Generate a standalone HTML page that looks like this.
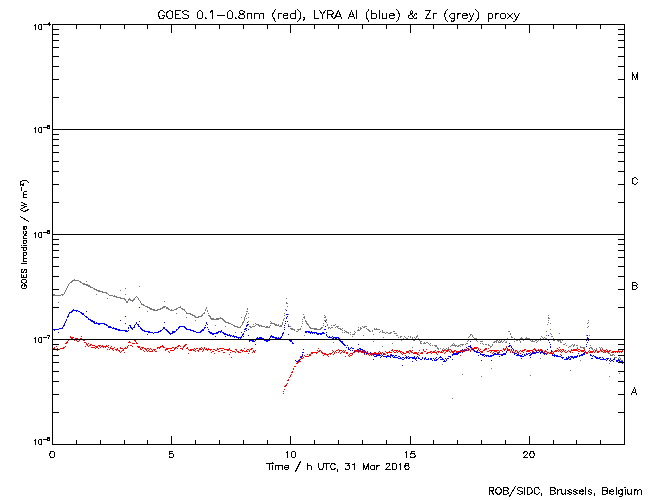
<!DOCTYPE html>
<html><head><meta charset="utf-8"><title>GOES / LYRA proxy</title>
<style>html,body{margin:0;padding:0;background:#fff;font-family:"Liberation Sans",sans-serif}svg{display:block}</style>
</head><body><svg width="650" height="500" viewBox="0 0 650 500" shape-rendering="crispEdges"><path fill="#787878" d="M74 279h1v1h-1zM72 280h7v1h-7zM71 281h2v1h-2zM79 281h2v1h-2zM86 281h1v1h-1zM70 282h2v1h-2zM80 282h2v1h-2zM69 283h1v1h-1zM82 283h3v1h-3zM68 284h1v1h-1zM83 284h5v1h-5zM68 285h1v1h-1zM86 285h4v1h-4zM67 286h1v1h-1zM88 286h3v1h-3zM139 286h1v1h-1zM67 287h1v1h-1zM90 287h3v1h-3zM66 288h1v1h-1zM93 288h2v1h-2zM125 288h1v1h-1zM66 289h1v1h-1zM94 289h3v1h-3zM65 290h1v1h-1zM96 290h4v1h-4zM120 290h1v1h-1zM65 291h1v1h-1zM98 291h5v1h-5zM64 292h1v1h-1zM102 292h5v1h-5zM64 293h1v1h-1zM106 293h2v1h-2zM53 294h2v1h-2zM61 294h3v1h-3zM96 294h1v1h-1zM108 294h1v1h-1zM125 294h1v1h-1zM53 295h8v1h-8zM62 295h1v1h-1zM109 295h4v1h-4zM114 295h1v1h-1zM113 296h4v1h-4zM136 296h1v1h-1zM116 297h5v1h-5zM135 297h1v1h-1zM137 297h1v1h-1zM107 298h1v1h-1zM120 298h5v1h-5zM129 298h1v1h-1zM134 298h1v1h-1zM138 298h1v1h-1zM286 298h1v1h-1zM124 299h2v1h-2zM128 299h3v1h-3zM133 299h2v1h-2zM138 299h1v1h-1zM125 300h1v1h-1zM128 300h1v1h-1zM130 300h4v1h-4zM139 300h1v1h-1zM126 301h2v1h-2zM132 301h1v1h-1zM140 301h1v1h-1zM164 301h1v1h-1zM58 302h1v1h-1zM126 302h2v1h-2zM140 302h1v1h-1zM286 302h1v1h-1zM141 303h1v1h-1zM286 303h2v1h-2zM141 304h3v1h-3zM143 305h2v1h-2zM145 306h3v1h-3zM163 306h3v1h-3zM180 306h1v1h-1zM287 306h1v1h-1zM147 307h3v1h-3zM162 307h3v1h-3zM166 307h2v1h-2zM178 307h3v1h-3zM206 307h1v1h-1zM149 308h3v1h-3zM160 308h3v1h-3zM166 308h3v1h-3zM176 308h2v1h-2zM181 308h2v1h-2zM206 308h1v1h-1zM247 308h1v1h-1zM150 309h5v1h-5zM157 309h4v1h-4zM168 309h2v1h-2zM171 309h1v1h-1zM174 309h3v1h-3zM182 309h3v1h-3zM205 309h1v1h-1zM247 309h1v1h-1zM285 309h1v1h-1zM153 310h5v1h-5zM170 310h4v1h-4zM184 310h1v1h-1zM205 310h1v1h-1zM207 310h1v1h-1zM147 311h1v1h-1zM185 311h1v1h-1zM207 311h1v1h-1zM246 311h2v1h-2zM186 312h1v1h-1zM204 312h1v1h-1zM176 313h1v1h-1zM186 313h5v1h-5zM203 313h2v1h-2zM208 313h1v1h-1zM246 313h1v1h-1zM248 313h1v1h-1zM284 313h1v1h-1zM190 314h3v1h-3zM202 314h1v1h-1zM246 314h1v1h-1zM288 314h1v1h-1zM303 314h1v1h-1zM192 315h3v1h-3zM201 315h2v1h-2zM208 315h2v1h-2zM245 315h1v1h-1zM284 315h1v1h-1zM324 315h1v1h-1zM548 315h1v1h-1zM194 316h2v1h-2zM198 316h4v1h-4zM209 316h2v1h-2zM245 316h1v1h-1zM304 316h1v1h-1zM325 316h1v1h-1zM186 317h1v1h-1zM195 317h4v1h-4zM210 317h1v1h-1zM220 317h1v1h-1zM241 317h1v1h-1zM244 317h1v1h-1zM248 317h1v1h-1zM303 317h2v1h-2zM324 317h2v1h-2zM548 317h1v1h-1zM210 318h4v1h-4zM216 318h7v1h-7zM244 318h1v1h-1zM246 318h1v1h-1zM284 318h1v1h-1zM304 318h1v1h-1zM548 318h2v1h-2zM211 319h8v1h-8zM222 319h2v1h-2zM244 319h1v1h-1zM283 319h1v1h-1zM302 319h1v1h-1zM326 319h1v1h-1zM195 320h1v1h-1zM223 320h2v1h-2zM244 320h1v1h-1zM283 320h1v1h-1zM305 320h1v1h-1zM324 320h3v1h-3zM548 320h1v1h-1zM588 320h1v1h-1zM224 321h2v1h-2zM243 321h1v1h-1zM248 321h1v1h-1zM270 321h1v1h-1zM302 321h1v1h-1zM305 321h2v1h-2zM225 322h4v1h-4zM242 322h2v1h-2zM271 322h1v1h-1zM282 322h1v1h-1zM306 322h1v1h-1zM326 322h1v1h-1zM548 322h1v1h-1zM588 322h1v1h-1zM228 323h3v1h-3zM242 323h1v1h-1zM255 323h1v1h-1zM270 323h5v1h-5zM282 323h1v1h-1zM302 323h1v1h-1zM306 323h2v1h-2zM323 323h1v1h-1zM550 323h1v1h-1zM587 323h1v1h-1zM231 324h2v1h-2zM242 324h1v1h-1zM253 324h1v1h-1zM256 324h3v1h-3zM274 324h3v1h-3zM278 324h1v1h-1zM282 324h1v1h-1zM288 324h1v1h-1zM307 324h2v1h-2zM327 324h1v1h-1zM335 324h1v1h-1zM547 324h1v1h-1zM215 325h1v1h-1zM233 325h2v1h-2zM241 325h1v1h-1zM255 325h1v1h-1zM258 325h4v1h-4zM270 325h1v1h-1zM275 325h4v1h-4zM280 325h2v1h-2zM288 325h1v1h-1zM308 325h1v1h-1zM323 325h1v1h-1zM327 325h1v1h-1zM331 325h1v1h-1zM333 325h2v1h-2zM225 326h1v1h-1zM234 326h4v1h-4zM240 326h1v1h-1zM249 326h2v1h-2zM252 326h3v1h-3zM259 326h1v1h-1zM261 326h4v1h-4zM266 326h2v1h-2zM269 326h1v1h-1zM279 326h3v1h-3zM289 326h2v1h-2zM301 326h1v1h-1zM309 326h1v1h-1zM336 326h3v1h-3zM362 326h1v1h-1zM364 326h3v1h-3zM588 326h1v1h-1zM237 327h4v1h-4zM250 327h2v1h-2zM265 327h5v1h-5zM309 327h2v1h-2zM321 327h2v1h-2zM328 327h2v1h-2zM331 327h2v1h-2zM335 327h1v1h-1zM337 327h1v1h-1zM358 327h1v1h-1zM360 327h1v1h-1zM363 327h2v1h-2zM587 327h1v1h-1zM290 328h3v1h-3zM300 328h1v1h-1zM310 328h7v1h-7zM320 328h2v1h-2zM328 328h1v1h-1zM330 328h1v1h-1zM338 328h3v1h-3zM342 328h1v1h-1zM360 328h2v1h-2zM366 328h1v1h-1zM374 328h1v1h-1zM376 328h1v1h-1zM291 329h4v1h-4zM297 329h4v1h-4zM314 329h7v1h-7zM340 329h2v1h-2zM358 329h1v1h-1zM360 329h1v1h-1zM367 329h2v1h-2zM374 329h6v1h-6zM550 329h1v1h-1zM294 330h1v1h-1zM298 330h1v1h-1zM342 330h1v1h-1zM344 330h1v1h-1zM357 330h3v1h-3zM368 330h2v1h-2zM372 330h1v1h-1zM382 330h1v1h-1zM296 331h2v1h-2zM345 331h2v1h-2zM354 331h1v1h-1zM369 331h2v1h-2zM372 331h1v1h-1zM380 331h1v1h-1zM382 331h1v1h-1zM393 331h2v1h-2zM508 331h2v1h-2zM546 331h1v1h-1zM235 332h1v1h-1zM342 332h1v1h-1zM344 332h1v1h-1zM346 332h3v1h-3zM350 332h1v1h-1zM355 332h1v1h-1zM379 332h1v1h-1zM382 332h3v1h-3zM386 332h2v1h-2zM390 332h2v1h-2zM348 333h1v1h-1zM354 333h1v1h-1zM385 333h1v1h-1zM388 333h3v1h-3zM394 333h3v1h-3zM510 333h1v1h-1zM550 333h1v1h-1zM559 333h1v1h-1zM350 334h1v1h-1zM352 334h3v1h-3zM373 334h1v1h-1zM470 334h2v1h-2zM510 334h1v1h-1zM551 334h1v1h-1zM304 335h1v1h-1zM363 335h1v1h-1zM396 335h2v1h-2zM417 335h1v1h-1zM470 335h1v1h-1zM472 335h1v1h-1zM546 335h1v1h-1zM586 335h1v1h-1zM589 335h1v1h-1zM352 336h1v1h-1zM400 336h2v1h-2zM404 336h1v1h-1zM408 336h1v1h-1zM410 336h1v1h-1zM416 336h2v1h-2zM469 336h1v1h-1zM472 336h1v1h-1zM511 336h1v1h-1zM541 336h1v1h-1zM551 336h2v1h-2zM383 337h1v1h-1zM398 337h1v1h-1zM400 337h1v1h-1zM405 337h1v1h-1zM410 337h1v1h-1zM412 337h1v1h-1zM414 337h1v1h-1zM416 337h1v1h-1zM468 337h1v1h-1zM473 337h1v1h-1zM511 337h2v1h-2zM521 337h1v1h-1zM526 337h1v1h-1zM542 337h1v1h-1zM544 337h1v1h-1zM403 338h1v1h-1zM406 338h2v1h-2zM412 338h1v1h-1zM415 338h1v1h-1zM418 338h1v1h-1zM474 338h3v1h-3zM507 338h1v1h-1zM514 338h1v1h-1zM520 338h3v1h-3zM525 338h5v1h-5zM540 338h1v1h-1zM543 338h1v1h-1zM545 338h2v1h-2zM553 338h1v1h-1zM402 339h5v1h-5zM408 339h1v1h-1zM414 339h1v1h-1zM477 339h2v1h-2zM512 339h1v1h-1zM515 339h1v1h-1zM517 339h2v1h-2zM522 339h1v1h-1zM527 339h1v1h-1zM529 339h1v1h-1zM537 339h1v1h-1zM539 339h1v1h-1zM554 339h3v1h-3zM401 340h1v1h-1zM413 340h2v1h-2zM419 340h1v1h-1zM468 340h1v1h-1zM476 340h1v1h-1zM496 340h2v1h-2zM499 340h1v1h-1zM501 340h1v1h-1zM504 340h1v1h-1zM516 340h2v1h-2zM519 340h1v1h-1zM523 340h1v1h-1zM530 340h1v1h-1zM532 340h1v1h-1zM535 340h2v1h-2zM538 340h1v1h-1zM540 340h1v1h-1zM553 340h2v1h-2zM557 340h4v1h-4zM562 340h1v1h-1zM586 340h1v1h-1zM373 341h1v1h-1zM420 341h2v1h-2zM467 341h1v1h-1zM477 341h1v1h-1zM480 341h3v1h-3zM494 341h3v1h-3zM498 341h1v1h-1zM500 341h2v1h-2zM503 341h1v1h-1zM506 341h1v1h-1zM514 341h1v1h-1zM520 341h1v1h-1zM531 341h4v1h-4zM537 341h1v1h-1zM558 341h1v1h-1zM560 341h1v1h-1zM333 342h1v1h-1zM420 342h1v1h-1zM424 342h1v1h-1zM426 342h2v1h-2zM493 342h2v1h-2zM496 342h1v1h-1zM498 342h3v1h-3zM502 342h1v1h-1zM505 342h2v1h-2zM520 342h1v1h-1zM536 342h1v1h-1zM560 342h2v1h-2zM392 343h1v1h-1zM420 343h2v1h-2zM423 343h3v1h-3zM428 343h1v1h-1zM430 343h1v1h-1zM453 343h1v1h-1zM466 343h2v1h-2zM480 343h1v1h-1zM482 343h1v1h-1zM565 343h1v1h-1zM429 344h1v1h-1zM452 344h1v1h-1zM454 344h1v1h-1zM460 344h4v1h-4zM465 344h1v1h-1zM483 344h1v1h-1zM485 344h2v1h-2zM488 344h1v1h-1zM492 344h1v1h-1zM563 344h2v1h-2zM572 344h1v1h-1zM574 344h1v1h-1zM430 345h1v1h-1zM432 345h1v1h-1zM434 345h3v1h-3zM451 345h6v1h-6zM458 345h2v1h-2zM462 345h1v1h-1zM488 345h2v1h-2zM492 345h1v1h-1zM566 345h1v1h-1zM571 345h1v1h-1zM573 345h2v1h-2zM576 345h2v1h-2zM590 345h1v1h-1zM382 346h1v1h-1zM435 346h2v1h-2zM450 346h1v1h-1zM455 346h1v1h-1zM457 346h2v1h-2zM460 346h1v1h-1zM490 346h2v1h-2zM569 346h2v1h-2zM573 346h1v1h-1zM580 346h1v1h-1zM412 347h1v1h-1zM437 347h1v1h-1zM448 347h1v1h-1zM490 347h1v1h-1zM568 347h1v1h-1zM577 347h1v1h-1zM580 347h5v1h-5zM590 347h2v1h-2zM599 347h1v1h-1zM601 347h1v1h-1zM437 348h2v1h-2zM440 348h1v1h-1zM443 348h1v1h-1zM446 348h1v1h-1zM448 348h1v1h-1zM583 348h2v1h-2zM591 348h2v1h-2zM596 348h1v1h-1zM600 348h1v1h-1zM602 348h1v1h-1zM438 349h1v1h-1zM442 349h1v1h-1zM444 349h2v1h-2zM447 349h1v1h-1zM449 349h1v1h-1zM592 349h1v1h-1zM594 349h1v1h-1zM596 349h1v1h-1zM442 350h4v1h-4zM593 350h1v1h-1zM603 350h3v1h-3zM605 351h1v1h-1zM604 352h1v1h-1zM607 352h1v1h-1zM608 353h2v1h-2zM610 354h1v1h-1zM612 354h2v1h-2zM610 355h3v1h-3zM614 355h1v1h-1zM614 357h3v1h-3zM619 357h1v1h-1zM540 358h1v1h-1zM618 358h1v1h-1zM620 358h1v1h-1zM619 359h2v1h-2zM580 360h1v1h-1zM621 360h2v1h-2zM621 361h1v1h-1zM609 363h1v1h-1zM442 364h1v1h-1zM491 368h1v1h-1zM570 370h1v1h-1zM619 373h1v1h-1zM462 374h1v1h-1zM530 375h1v1h-1zM481 376h1v1h-1zM609 376h1v1h-1zM452 398h1v1h-1z"/><path fill="#0000ff" d="M139 307h1v1h-1zM73 309h1v1h-1zM72 310h6v1h-6zM286 310h1v1h-1zM71 311h2v1h-2zM76 311h1v1h-1zM78 311h2v1h-2zM86 311h1v1h-1zM69 312h3v1h-3zM80 312h2v1h-2zM69 313h1v1h-1zM81 313h3v1h-3zM68 314h1v1h-1zM82 314h2v1h-2zM286 314h2v1h-2zM68 315h1v1h-1zM84 315h1v1h-1zM67 316h2v1h-2zM85 316h2v1h-2zM125 316h1v1h-1zM287 316h1v1h-1zM67 317h1v1h-1zM86 317h2v1h-2zM286 317h1v1h-1zM88 318h1v1h-1zM286 318h1v1h-1zM66 319h1v1h-1zM88 319h3v1h-3zM66 320h1v1h-1zM90 320h3v1h-3zM120 320h1v1h-1zM65 321h1v1h-1zM91 321h4v1h-4zM139 321h1v1h-1zM285 321h1v1h-1zM287 321h1v1h-1zM325 321h1v1h-1zM65 322h1v1h-1zM93 322h2v1h-2zM96 322h1v1h-1zM136 322h1v1h-1zM164 322h1v1h-1zM206 322h1v1h-1zM247 322h1v1h-1zM64 323h1v1h-1zM94 323h11v1h-11zM125 323h1v1h-1zM136 323h1v1h-1zM206 323h1v1h-1zM285 323h1v1h-1zM64 324h1v1h-1zM98 324h2v1h-2zM104 324h3v1h-3zM135 324h1v1h-1zM137 324h2v1h-2zM207 324h1v1h-1zM247 324h2v1h-2zM63 325h2v1h-2zM106 325h2v1h-2zM129 325h2v1h-2zM134 325h1v1h-1zM138 325h1v1h-1zM205 325h1v1h-1zM246 325h2v1h-2zM284 325h1v1h-1zM63 326h1v1h-1zM108 326h3v1h-3zM130 326h1v1h-1zM134 326h1v1h-1zM138 326h2v1h-2zM179 326h6v1h-6zM246 326h1v1h-1zM288 326h1v1h-1zM325 326h1v1h-1zM62 327h1v1h-1zM108 327h4v1h-4zM113 327h1v1h-1zM128 327h1v1h-1zM130 327h2v1h-2zM133 327h2v1h-2zM140 327h1v1h-1zM163 327h2v1h-2zM178 327h2v1h-2zM184 327h2v1h-2zM204 327h2v1h-2zM207 327h1v1h-1zM284 327h1v1h-1zM59 328h4v1h-4zM112 328h5v1h-5zM128 328h1v1h-1zM131 328h2v1h-2zM140 328h2v1h-2zM163 328h2v1h-2zM178 328h1v1h-1zM185 328h2v1h-2zM204 328h1v1h-1zM245 328h2v1h-2zM53 329h6v1h-6zM115 329h5v1h-5zM132 329h1v1h-1zM141 329h2v1h-2zM162 329h1v1h-1zM165 329h2v1h-2zM176 329h2v1h-2zM186 329h5v1h-5zM202 329h2v1h-2zM208 329h1v1h-1zM244 329h2v1h-2zM248 329h1v1h-1zM284 329h1v1h-1zM324 329h2v1h-2zM54 330h1v1h-1zM118 330h9v1h-9zM128 330h1v1h-1zM142 330h3v1h-3zM160 330h2v1h-2zM166 330h2v1h-2zM176 330h1v1h-1zM190 330h4v1h-4zM201 330h3v1h-3zM221 330h1v1h-1zM246 330h1v1h-1zM125 331h3v1h-3zM144 331h6v1h-6zM158 331h3v1h-3zM167 331h2v1h-2zM172 331h4v1h-4zM193 331h3v1h-3zM200 331h2v1h-2zM208 331h2v1h-2zM218 331h4v1h-4zM244 331h1v1h-1zM305 331h5v1h-5zM311 331h1v1h-1zM58 332h1v1h-1zM148 332h5v1h-5zM154 332h5v1h-5zM168 332h2v1h-2zM172 332h3v1h-3zM196 332h5v1h-5zM209 332h3v1h-3zM216 332h3v1h-3zM220 332h1v1h-1zM222 332h2v1h-2zM241 332h1v1h-1zM283 332h1v1h-1zM305 332h2v1h-2zM308 332h9v1h-9zM322 332h2v1h-2zM326 332h1v1h-1zM153 333h1v1h-1zM169 333h4v1h-4zM210 333h8v1h-8zM223 333h3v1h-3zM243 333h1v1h-1zM282 333h2v1h-2zM310 333h1v1h-1zM312 333h1v1h-1zM314 333h1v1h-1zM316 333h9v1h-9zM147 334h1v1h-1zM170 334h1v1h-1zM212 334h2v1h-2zM224 334h4v1h-4zM229 334h1v1h-1zM242 334h2v1h-2zM282 334h1v1h-1zM288 334h1v1h-1zM317 334h2v1h-2zM320 334h2v1h-2zM326 334h1v1h-1zM227 335h5v1h-5zM233 335h1v1h-1zM242 335h1v1h-1zM248 335h1v1h-1zM271 335h1v1h-1zM282 335h1v1h-1zM326 335h1v1h-1zM548 335h1v1h-1zM587 335h1v1h-1zM215 336h1v1h-1zM225 336h1v1h-1zM230 336h1v1h-1zM232 336h5v1h-5zM241 336h1v1h-1zM243 336h1v1h-1zM270 336h4v1h-4zM281 336h1v1h-1zM327 336h1v1h-1zM329 336h1v1h-1zM332 336h1v1h-1zM234 337h1v1h-1zM236 337h6v1h-6zM257 337h1v1h-1zM259 337h3v1h-3zM270 337h1v1h-1zM272 337h5v1h-5zM278 337h1v1h-1zM280 337h2v1h-2zM328 337h4v1h-4zM333 337h6v1h-6zM587 337h1v1h-1zM238 338h1v1h-1zM240 338h1v1h-1zM256 338h8v1h-8zM269 338h1v1h-1zM275 338h6v1h-6zM332 338h2v1h-2zM335 338h2v1h-2zM338 338h2v1h-2zM587 338h2v1h-2zM250 339h1v1h-1zM256 339h1v1h-1zM263 339h2v1h-2zM288 339h2v1h-2zM548 339h2v1h-2zM249 340h5v1h-5zM255 340h1v1h-1zM264 340h6v1h-6zM289 340h3v1h-3zM339 340h2v1h-2zM548 340h1v1h-1zM586 340h1v1h-1zM588 340h1v1h-1zM249 341h1v1h-1zM252 341h3v1h-3zM266 341h2v1h-2zM290 341h2v1h-2zM340 341h3v1h-3zM470 341h1v1h-1zM292 342h1v1h-1zM341 342h2v1h-2zM549 342h1v1h-1zM587 342h1v1h-1zM292 343h2v1h-2zM342 343h2v1h-2zM509 343h1v1h-1zM255 344h1v1h-1zM343 344h2v1h-2zM358 344h1v1h-1zM550 344h1v1h-1zM586 344h1v1h-1zM344 345h2v1h-2zM347 345h1v1h-1zM470 345h1v1h-1zM509 345h2v1h-2zM468 346h3v1h-3zM508 346h2v1h-2zM511 346h1v1h-1zM550 346h1v1h-1zM586 346h1v1h-1zM346 347h1v1h-1zM348 347h1v1h-1zM351 347h1v1h-1zM466 347h1v1h-1zM470 347h2v1h-2zM511 347h1v1h-1zM550 347h1v1h-1zM348 348h1v1h-1zM350 348h1v1h-1zM352 348h2v1h-2zM359 348h2v1h-2zM468 348h1v1h-1zM471 348h2v1h-2zM512 348h1v1h-1zM589 348h1v1h-1zM303 349h1v1h-1zM348 349h2v1h-2zM357 349h2v1h-2zM360 349h3v1h-3zM462 349h1v1h-1zM464 349h1v1h-1zM468 349h2v1h-2zM472 349h2v1h-2zM513 349h1v1h-1zM534 349h1v1h-1zM547 349h1v1h-1zM350 350h1v1h-1zM352 350h1v1h-1zM354 350h3v1h-3zM359 350h2v1h-2zM363 350h2v1h-2zM461 350h3v1h-3zM465 350h3v1h-3zM474 350h1v1h-1zM477 350h1v1h-1zM507 350h2v1h-2zM535 350h2v1h-2zM538 350h1v1h-1zM551 350h1v1h-1zM354 351h5v1h-5zM362 351h2v1h-2zM365 351h1v1h-1zM461 351h1v1h-1zM464 351h1v1h-1zM474 351h3v1h-3zM494 351h1v1h-1zM506 351h1v1h-1zM512 351h1v1h-1zM532 351h1v1h-1zM536 351h1v1h-1zM539 351h1v1h-1zM541 351h2v1h-2zM544 351h1v1h-1zM551 351h1v1h-1zM302 352h2v1h-2zM364 352h3v1h-3zM370 352h1v1h-1zM458 352h3v1h-3zM462 352h1v1h-1zM476 352h4v1h-4zM498 352h1v1h-1zM506 352h1v1h-1zM512 352h2v1h-2zM532 352h3v1h-3zM536 352h3v1h-3zM540 352h3v1h-3zM584 352h1v1h-1zM589 352h1v1h-1zM364 353h1v1h-1zM366 353h7v1h-7zM376 353h1v1h-1zM453 353h6v1h-6zM480 353h1v1h-1zM492 353h1v1h-1zM494 353h2v1h-2zM497 353h1v1h-1zM503 353h3v1h-3zM514 353h3v1h-3zM526 353h1v1h-1zM528 353h2v1h-2zM531 353h5v1h-5zM540 353h1v1h-1zM543 353h4v1h-4zM578 353h1v1h-1zM583 353h2v1h-2zM302 354h1v1h-1zM372 354h4v1h-4zM378 354h2v1h-2zM381 354h1v1h-1zM383 354h3v1h-3zM391 354h1v1h-1zM452 354h6v1h-6zM480 354h5v1h-5zM493 354h7v1h-7zM501 354h5v1h-5zM514 354h1v1h-1zM517 354h2v1h-2zM522 354h1v1h-1zM524 354h1v1h-1zM526 354h2v1h-2zM530 354h2v1h-2zM544 354h1v1h-1zM546 354h1v1h-1zM552 354h1v1h-1zM554 354h1v1h-1zM581 354h4v1h-4zM590 354h1v1h-1zM302 355h1v1h-1zM371 355h1v1h-1zM376 355h5v1h-5zM382 355h1v1h-1zM387 355h2v1h-2zM390 355h4v1h-4zM395 355h2v1h-2zM452 355h1v1h-1zM478 355h1v1h-1zM482 355h2v1h-2zM485 355h4v1h-4zM490 355h4v1h-4zM501 355h2v1h-2zM516 355h6v1h-6zM524 355h2v1h-2zM529 355h2v1h-2zM552 355h6v1h-6zM561 355h1v1h-1zM577 355h1v1h-1zM579 355h4v1h-4zM590 355h2v1h-2zM593 355h1v1h-1zM300 356h2v1h-2zM374 356h3v1h-3zM381 356h1v1h-1zM383 356h8v1h-8zM392 356h1v1h-1zM394 356h1v1h-1zM398 356h2v1h-2zM406 356h1v1h-1zM408 356h1v1h-1zM414 356h1v1h-1zM417 356h1v1h-1zM440 356h1v1h-1zM448 356h3v1h-3zM484 356h1v1h-1zM486 356h1v1h-1zM488 356h4v1h-4zM499 356h1v1h-1zM520 356h4v1h-4zM554 356h1v1h-1zM556 356h5v1h-5zM568 356h1v1h-1zM570 356h3v1h-3zM574 356h4v1h-4zM579 356h1v1h-1zM592 356h1v1h-1zM594 356h2v1h-2zM300 357h2v1h-2zM380 357h1v1h-1zM386 357h1v1h-1zM390 357h1v1h-1zM393 357h5v1h-5zM400 357h1v1h-1zM402 357h2v1h-2zM405 357h3v1h-3zM409 357h6v1h-6zM416 357h1v1h-1zM418 357h1v1h-1zM422 357h1v1h-1zM425 357h1v1h-1zM436 357h1v1h-1zM439 357h3v1h-3zM450 357h1v1h-1zM530 357h1v1h-1zM561 357h3v1h-3zM566 357h1v1h-1zM568 357h2v1h-2zM571 357h6v1h-6zM595 357h3v1h-3zM599 357h2v1h-2zM602 357h1v1h-1zM398 358h4v1h-4zM404 358h1v1h-1zM406 358h1v1h-1zM408 358h2v1h-2zM412 358h5v1h-5zM418 358h2v1h-2zM422 358h1v1h-1zM424 358h2v1h-2zM428 358h1v1h-1zM430 358h2v1h-2zM433 358h1v1h-1zM435 358h1v1h-1zM438 358h1v1h-1zM442 358h1v1h-1zM445 358h1v1h-1zM447 358h2v1h-2zM521 358h1v1h-1zM562 358h1v1h-1zM566 358h3v1h-3zM570 358h1v1h-1zM573 358h1v1h-1zM591 358h2v1h-2zM596 358h4v1h-4zM603 358h1v1h-1zM606 358h3v1h-3zM610 358h1v1h-1zM614 358h1v1h-1zM299 359h2v1h-2zM373 359h1v1h-1zM402 359h2v1h-2zM415 359h1v1h-1zM420 359h2v1h-2zM424 359h1v1h-1zM426 359h3v1h-3zM430 359h2v1h-2zM434 359h1v1h-1zM436 359h2v1h-2zM440 359h4v1h-4zM446 359h1v1h-1zM452 359h1v1h-1zM564 359h4v1h-4zM569 359h2v1h-2zM600 359h6v1h-6zM607 359h1v1h-1zM610 359h1v1h-1zM613 359h2v1h-2zM618 359h1v1h-1zM295 360h1v1h-1zM298 360h2v1h-2zM416 360h1v1h-1zM432 360h1v1h-1zM434 360h3v1h-3zM444 360h1v1h-1zM446 360h1v1h-1zM481 360h1v1h-1zM491 360h1v1h-1zM606 360h1v1h-1zM609 360h1v1h-1zM611 360h2v1h-2zM616 360h4v1h-4zM296 361h2v1h-2zM412 361h1v1h-1zM443 361h3v1h-3zM610 361h1v1h-1zM613 361h1v1h-1zM616 361h2v1h-2zM619 361h4v1h-4zM297 362h1v1h-1zM620 362h2v1h-2zM297 363h1v1h-1zM622 363h1v1h-1zM402 365h1v1h-1z"/><path fill="#ff0000" d="M70 336h1v1h-1zM81 336h1v1h-1zM70 337h4v1h-4zM71 338h2v1h-2zM75 338h3v1h-3zM80 338h2v1h-2zM68 339h2v1h-2zM74 339h1v1h-1zM78 339h2v1h-2zM82 339h2v1h-2zM68 340h1v1h-1zM74 340h1v1h-1zM76 340h1v1h-1zM79 340h1v1h-1zM83 340h2v1h-2zM134 340h2v1h-2zM67 341h1v1h-1zM77 341h2v1h-2zM129 341h1v1h-1zM135 341h1v1h-1zM66 342h2v1h-2zM84 342h2v1h-2zM128 342h3v1h-3zM136 342h1v1h-1zM65 343h2v1h-2zM86 343h1v1h-1zM88 343h1v1h-1zM132 343h3v1h-3zM136 343h2v1h-2zM86 344h2v1h-2zM90 344h2v1h-2zM185 344h2v1h-2zM87 345h1v1h-1zM89 345h2v1h-2zM92 345h3v1h-3zM98 345h3v1h-3zM102 345h1v1h-1zM106 345h1v1h-1zM108 345h1v1h-1zM128 345h1v1h-1zM130 345h2v1h-2zM162 345h1v1h-1zM178 345h2v1h-2zM184 345h2v1h-2zM56 346h1v1h-1zM65 346h1v1h-1zM85 346h1v1h-1zM88 346h1v1h-1zM95 346h3v1h-3zM99 346h1v1h-1zM101 346h7v1h-7zM111 346h1v1h-1zM127 346h1v1h-1zM132 346h1v1h-1zM137 346h3v1h-3zM160 346h4v1h-4zM177 346h2v1h-2zM180 346h1v1h-1zM183 346h2v1h-2zM506 346h1v1h-1zM54 347h1v1h-1zM63 347h2v1h-2zM91 347h4v1h-4zM96 347h2v1h-2zM100 347h1v1h-1zM103 347h1v1h-1zM105 347h1v1h-1zM108 347h1v1h-1zM110 347h1v1h-1zM114 347h1v1h-1zM120 347h1v1h-1zM125 347h1v1h-1zM127 347h1v1h-1zM138 347h2v1h-2zM141 347h3v1h-3zM157 347h4v1h-4zM163 347h2v1h-2zM172 347h2v1h-2zM175 347h2v1h-2zM183 347h1v1h-1zM187 347h1v1h-1zM201 347h1v1h-1zM204 347h1v1h-1zM474 347h4v1h-4zM506 347h1v1h-1zM559 347h1v1h-1zM53 348h2v1h-2zM57 348h1v1h-1zM60 348h4v1h-4zM95 348h1v1h-1zM98 348h1v1h-1zM110 348h4v1h-4zM117 348h1v1h-1zM120 348h3v1h-3zM124 348h3v1h-3zM140 348h1v1h-1zM142 348h1v1h-1zM144 348h2v1h-2zM147 348h2v1h-2zM150 348h1v1h-1zM157 348h1v1h-1zM159 348h1v1h-1zM166 348h6v1h-6zM174 348h2v1h-2zM177 348h1v1h-1zM180 348h3v1h-3zM186 348h2v1h-2zM194 348h1v1h-1zM196 348h2v1h-2zM199 348h2v1h-2zM202 348h1v1h-1zM204 348h1v1h-1zM206 348h1v1h-1zM208 348h1v1h-1zM217 348h1v1h-1zM219 348h5v1h-5zM229 348h1v1h-1zM244 348h1v1h-1zM251 348h2v1h-2zM318 348h1v1h-1zM467 348h2v1h-2zM471 348h6v1h-6zM478 348h1v1h-1zM485 348h2v1h-2zM488 348h1v1h-1zM503 348h1v1h-1zM505 348h1v1h-1zM507 348h1v1h-1zM534 348h1v1h-1zM557 348h1v1h-1zM577 348h1v1h-1zM55 349h1v1h-1zM58 349h2v1h-2zM107 349h1v1h-1zM109 349h1v1h-1zM112 349h1v1h-1zM115 349h3v1h-3zM123 349h1v1h-1zM140 349h2v1h-2zM145 349h2v1h-2zM149 349h1v1h-1zM151 349h1v1h-1zM153 349h3v1h-3zM165 349h3v1h-3zM174 349h1v1h-1zM182 349h1v1h-1zM188 349h1v1h-1zM190 349h4v1h-4zM195 349h1v1h-1zM199 349h3v1h-3zM203 349h1v1h-1zM205 349h7v1h-7zM213 349h2v1h-2zM217 349h2v1h-2zM224 349h6v1h-6zM235 349h2v1h-2zM241 349h1v1h-1zM247 349h2v1h-2zM250 349h2v1h-2zM338 349h1v1h-1zM392 349h1v1h-1zM423 349h1v1h-1zM426 349h1v1h-1zM448 349h1v1h-1zM450 349h1v1h-1zM465 349h2v1h-2zM469 349h1v1h-1zM471 349h1v1h-1zM478 349h1v1h-1zM480 349h1v1h-1zM484 349h3v1h-3zM503 349h3v1h-3zM507 349h3v1h-3zM511 349h1v1h-1zM524 349h2v1h-2zM533 349h3v1h-3zM538 349h1v1h-1zM540 349h2v1h-2zM558 349h1v1h-1zM560 349h1v1h-1zM562 349h2v1h-2zM571 349h1v1h-1zM573 349h4v1h-4zM578 349h2v1h-2zM584 349h1v1h-1zM600 349h1v1h-1zM602 349h1v1h-1zM606 349h1v1h-1zM57 350h1v1h-1zM113 350h1v1h-1zM116 350h1v1h-1zM118 350h2v1h-2zM122 350h2v1h-2zM143 350h1v1h-1zM146 350h1v1h-1zM148 350h1v1h-1zM152 350h1v1h-1zM154 350h1v1h-1zM165 350h1v1h-1zM170 350h4v1h-4zM189 350h3v1h-3zM193 350h2v1h-2zM197 350h2v1h-2zM203 350h1v1h-1zM207 350h1v1h-1zM210 350h1v1h-1zM215 350h2v1h-2zM221 350h2v1h-2zM227 350h2v1h-2zM230 350h2v1h-2zM236 350h1v1h-1zM240 350h4v1h-4zM246 350h1v1h-1zM249 350h1v1h-1zM253 350h1v1h-1zM255 350h1v1h-1zM317 350h1v1h-1zM319 350h2v1h-2zM332 350h1v1h-1zM336 350h2v1h-2zM339 350h3v1h-3zM343 350h1v1h-1zM345 350h1v1h-1zM354 350h5v1h-5zM360 350h1v1h-1zM362 350h1v1h-1zM391 350h2v1h-2zM394 350h4v1h-4zM399 350h1v1h-1zM409 350h2v1h-2zM412 350h1v1h-1zM419 350h1v1h-1zM423 350h1v1h-1zM435 350h1v1h-1zM442 350h3v1h-3zM446 350h3v1h-3zM451 350h1v1h-1zM454 350h2v1h-2zM460 350h1v1h-1zM462 350h1v1h-1zM464 350h1v1h-1zM467 350h2v1h-2zM470 350h1v1h-1zM473 350h1v1h-1zM479 350h1v1h-1zM483 350h2v1h-2zM489 350h10v1h-10zM500 350h2v1h-2zM504 350h1v1h-1zM508 350h2v1h-2zM511 350h1v1h-1zM513 350h1v1h-1zM515 350h2v1h-2zM520 350h1v1h-1zM522 350h3v1h-3zM527 350h6v1h-6zM536 350h2v1h-2zM539 350h4v1h-4zM545 350h1v1h-1zM555 350h3v1h-3zM559 350h1v1h-1zM561 350h1v1h-1zM563 350h1v1h-1zM565 350h1v1h-1zM568 350h1v1h-1zM571 350h7v1h-7zM580 350h5v1h-5zM589 350h1v1h-1zM595 350h2v1h-2zM600 350h2v1h-2zM603 350h3v1h-3zM607 350h1v1h-1zM609 350h2v1h-2zM618 350h1v1h-1zM622 350h1v1h-1zM119 351h1v1h-1zM121 351h1v1h-1zM144 351h1v1h-1zM147 351h1v1h-1zM149 351h4v1h-4zM155 351h2v1h-2zM168 351h1v1h-1zM195 351h1v1h-1zM198 351h1v1h-1zM202 351h1v1h-1zM212 351h2v1h-2zM218 351h2v1h-2zM232 351h3v1h-3zM237 351h2v1h-2zM242 351h1v1h-1zM244 351h4v1h-4zM249 351h1v1h-1zM253 351h2v1h-2zM318 351h2v1h-2zM321 351h1v1h-1zM333 351h1v1h-1zM335 351h1v1h-1zM339 351h1v1h-1zM342 351h1v1h-1zM344 351h1v1h-1zM355 351h3v1h-3zM359 351h3v1h-3zM363 351h2v1h-2zM367 351h1v1h-1zM379 351h1v1h-1zM385 351h1v1h-1zM389 351h1v1h-1zM393 351h1v1h-1zM396 351h1v1h-1zM398 351h4v1h-4zM406 351h3v1h-3zM410 351h2v1h-2zM424 351h2v1h-2zM430 351h2v1h-2zM433 351h2v1h-2zM437 351h3v1h-3zM441 351h1v1h-1zM443 351h1v1h-1zM446 351h2v1h-2zM449 351h1v1h-1zM451 351h4v1h-4zM456 351h9v1h-9zM470 351h1v1h-1zM477 351h1v1h-1zM480 351h3v1h-3zM487 351h2v1h-2zM491 351h1v1h-1zM494 351h3v1h-3zM499 351h1v1h-1zM502 351h1v1h-1zM510 351h1v1h-1zM512 351h1v1h-1zM515 351h1v1h-1zM517 351h1v1h-1zM519 351h1v1h-1zM521 351h2v1h-2zM526 351h4v1h-4zM532 351h2v1h-2zM544 351h3v1h-3zM552 351h1v1h-1zM554 351h3v1h-3zM558 351h1v1h-1zM560 351h1v1h-1zM562 351h1v1h-1zM564 351h1v1h-1zM567 351h1v1h-1zM569 351h2v1h-2zM578 351h2v1h-2zM581 351h3v1h-3zM585 351h1v1h-1zM588 351h1v1h-1zM590 351h4v1h-4zM595 351h1v1h-1zM597 351h3v1h-3zM601 351h2v1h-2zM604 351h1v1h-1zM606 351h4v1h-4zM612 351h11v1h-11zM120 352h1v1h-1zM124 352h1v1h-1zM169 352h1v1h-1zM211 352h1v1h-1zM223 352h2v1h-2zM230 352h1v1h-1zM235 352h1v1h-1zM238 352h3v1h-3zM252 352h1v1h-1zM254 352h1v1h-1zM311 352h7v1h-7zM321 352h2v1h-2zM332 352h1v1h-1zM334 352h1v1h-1zM336 352h1v1h-1zM338 352h1v1h-1zM341 352h1v1h-1zM343 352h2v1h-2zM346 352h2v1h-2zM353 352h2v1h-2zM358 352h1v1h-1zM361 352h3v1h-3zM365 352h3v1h-3zM374 352h2v1h-2zM378 352h1v1h-1zM380 352h1v1h-1zM382 352h1v1h-1zM386 352h6v1h-6zM394 352h2v1h-2zM397 352h1v1h-1zM400 352h1v1h-1zM402 352h2v1h-2zM406 352h3v1h-3zM411 352h2v1h-2zM414 352h3v1h-3zM418 352h1v1h-1zM421 352h2v1h-2zM427 352h4v1h-4zM432 352h5v1h-5zM438 352h1v1h-1zM440 352h3v1h-3zM445 352h1v1h-1zM450 352h1v1h-1zM452 352h2v1h-2zM456 352h2v1h-2zM481 352h2v1h-2zM490 352h1v1h-1zM493 352h1v1h-1zM497 352h1v1h-1zM499 352h1v1h-1zM510 352h1v1h-1zM513 352h2v1h-2zM517 352h2v1h-2zM523 352h1v1h-1zM530 352h1v1h-1zM535 352h1v1h-1zM543 352h2v1h-2zM547 352h2v1h-2zM550 352h2v1h-2zM553 352h1v1h-1zM561 352h1v1h-1zM565 352h2v1h-2zM570 352h1v1h-1zM572 352h1v1h-1zM585 352h3v1h-3zM589 352h4v1h-4zM594 352h1v1h-1zM597 352h2v1h-2zM603 352h1v1h-1zM605 352h1v1h-1zM608 352h1v1h-1zM611 352h3v1h-3zM615 352h1v1h-1zM617 352h1v1h-1zM619 352h1v1h-1zM621 352h1v1h-1zM188 353h1v1h-1zM214 353h1v1h-1zM248 353h1v1h-1zM311 353h2v1h-2zM316 353h1v1h-1zM322 353h4v1h-4zM329 353h3v1h-3zM334 353h1v1h-1zM340 353h1v1h-1zM346 353h2v1h-2zM350 353h3v1h-3zM368 353h3v1h-3zM372 353h10v1h-10zM383 353h2v1h-2zM387 353h1v1h-1zM401 353h1v1h-1zM403 353h3v1h-3zM409 353h1v1h-1zM413 353h5v1h-5zM420 353h3v1h-3zM426 353h2v1h-2zM431 353h1v1h-1zM436 353h1v1h-1zM444 353h1v1h-1zM492 353h1v1h-1zM498 353h1v1h-1zM518 353h1v1h-1zM520 353h1v1h-1zM546 353h2v1h-2zM549 353h5v1h-5zM586 353h2v1h-2zM229 354h1v1h-1zM307 354h1v1h-1zM309 354h2v1h-2zM324 354h5v1h-5zM330 354h1v1h-1zM333 354h1v1h-1zM349 354h1v1h-1zM352 354h1v1h-1zM364 354h1v1h-1zM366 354h1v1h-1zM368 354h1v1h-1zM370 354h3v1h-3zM376 354h2v1h-2zM381 354h1v1h-1zM384 354h2v1h-2zM390 354h1v1h-1zM402 354h1v1h-1zM417 354h2v1h-2zM437 354h1v1h-1zM500 354h1v1h-1zM560 354h1v1h-1zM304 355h1v1h-1zM309 355h2v1h-2zM323 355h1v1h-1zM327 355h1v1h-1zM348 355h1v1h-1zM350 355h2v1h-2zM369 355h1v1h-1zM371 355h1v1h-1zM373 355h1v1h-1zM388 355h1v1h-1zM405 355h1v1h-1zM419 355h1v1h-1zM460 355h1v1h-1zM300 356h1v1h-1zM302 356h1v1h-1zM305 356h4v1h-4zM328 356h1v1h-1zM345 356h1v1h-1zM349 356h1v1h-1zM231 357h1v1h-1zM303 357h1v1h-1zM301 358h2v1h-2zM299 359h2v1h-2zM298 361h3v1h-3zM297 362h2v1h-2zM296 363h2v1h-2zM294 366h2v1h-2zM293 368h1v1h-1zM293 369h1v1h-1zM292 371h1v1h-1zM291 372h2v1h-2zM291 374h1v1h-1zM290 375h1v1h-1zM290 376h1v1h-1zM289 377h1v1h-1zM288 379h1v1h-1zM287 380h2v1h-2zM287 383h1v1h-1zM286 384h1v1h-1zM285 385h2v1h-2zM284 386h2v1h-2zM284 389h1v1h-1zM283 391h1v1h-1zM283 393h1v1h-1z"/><rect x="52" y="24" width="573" height="1" fill="#000"/><rect x="52" y="444" width="573" height="1" fill="#000"/><rect x="52" y="24" width="1" height="421" fill="#000"/><rect x="624" y="24" width="1" height="421" fill="#000"/><rect x="52" y="129" width="573" height="1" fill="#000"/><rect x="52" y="234" width="573" height="1" fill="#000"/><rect x="52" y="339" width="573" height="1" fill="#000"/><rect x="76" y="24" width="1" height="5" fill="#000"/><rect x="76" y="440" width="1" height="5" fill="#000"/><rect x="100" y="24" width="1" height="5" fill="#000"/><rect x="100" y="440" width="1" height="5" fill="#000"/><rect x="124" y="24" width="1" height="5" fill="#000"/><rect x="124" y="440" width="1" height="5" fill="#000"/><rect x="147" y="24" width="1" height="5" fill="#000"/><rect x="147" y="440" width="1" height="5" fill="#000"/><rect x="171" y="24" width="1" height="9" fill="#000"/><rect x="171" y="436" width="1" height="9" fill="#000"/><rect x="195" y="24" width="1" height="5" fill="#000"/><rect x="195" y="440" width="1" height="5" fill="#000"/><rect x="219" y="24" width="1" height="5" fill="#000"/><rect x="219" y="440" width="1" height="5" fill="#000"/><rect x="243" y="24" width="1" height="5" fill="#000"/><rect x="243" y="440" width="1" height="5" fill="#000"/><rect x="267" y="24" width="1" height="5" fill="#000"/><rect x="267" y="440" width="1" height="5" fill="#000"/><rect x="290" y="24" width="1" height="9" fill="#000"/><rect x="290" y="436" width="1" height="9" fill="#000"/><rect x="314" y="24" width="1" height="5" fill="#000"/><rect x="314" y="440" width="1" height="5" fill="#000"/><rect x="338" y="24" width="1" height="5" fill="#000"/><rect x="338" y="440" width="1" height="5" fill="#000"/><rect x="362" y="24" width="1" height="5" fill="#000"/><rect x="362" y="440" width="1" height="5" fill="#000"/><rect x="386" y="24" width="1" height="5" fill="#000"/><rect x="386" y="440" width="1" height="5" fill="#000"/><rect x="410" y="24" width="1" height="9" fill="#000"/><rect x="410" y="436" width="1" height="9" fill="#000"/><rect x="433" y="24" width="1" height="5" fill="#000"/><rect x="433" y="440" width="1" height="5" fill="#000"/><rect x="457" y="24" width="1" height="5" fill="#000"/><rect x="457" y="440" width="1" height="5" fill="#000"/><rect x="481" y="24" width="1" height="5" fill="#000"/><rect x="481" y="440" width="1" height="5" fill="#000"/><rect x="505" y="24" width="1" height="5" fill="#000"/><rect x="505" y="440" width="1" height="5" fill="#000"/><rect x="529" y="24" width="1" height="9" fill="#000"/><rect x="529" y="436" width="1" height="9" fill="#000"/><rect x="553" y="24" width="1" height="5" fill="#000"/><rect x="553" y="440" width="1" height="5" fill="#000"/><rect x="576" y="24" width="1" height="5" fill="#000"/><rect x="576" y="440" width="1" height="5" fill="#000"/><rect x="600" y="24" width="1" height="5" fill="#000"/><rect x="600" y="440" width="1" height="5" fill="#000"/><rect x="52" y="97" width="7" height="1" fill="#000"/><rect x="618" y="97" width="7" height="1" fill="#000"/><rect x="52" y="79" width="7" height="1" fill="#000"/><rect x="618" y="79" width="7" height="1" fill="#000"/><rect x="52" y="66" width="7" height="1" fill="#000"/><rect x="618" y="66" width="7" height="1" fill="#000"/><rect x="52" y="56" width="7" height="1" fill="#000"/><rect x="618" y="56" width="7" height="1" fill="#000"/><rect x="52" y="47" width="7" height="1" fill="#000"/><rect x="618" y="47" width="7" height="1" fill="#000"/><rect x="52" y="40" width="7" height="1" fill="#000"/><rect x="618" y="40" width="7" height="1" fill="#000"/><rect x="52" y="34" width="7" height="1" fill="#000"/><rect x="618" y="34" width="7" height="1" fill="#000"/><rect x="52" y="29" width="7" height="1" fill="#000"/><rect x="618" y="29" width="7" height="1" fill="#000"/><rect x="52" y="202" width="7" height="1" fill="#000"/><rect x="618" y="202" width="7" height="1" fill="#000"/><rect x="52" y="184" width="7" height="1" fill="#000"/><rect x="618" y="184" width="7" height="1" fill="#000"/><rect x="52" y="171" width="7" height="1" fill="#000"/><rect x="618" y="171" width="7" height="1" fill="#000"/><rect x="52" y="161" width="7" height="1" fill="#000"/><rect x="618" y="161" width="7" height="1" fill="#000"/><rect x="52" y="152" width="7" height="1" fill="#000"/><rect x="618" y="152" width="7" height="1" fill="#000"/><rect x="52" y="145" width="7" height="1" fill="#000"/><rect x="618" y="145" width="7" height="1" fill="#000"/><rect x="52" y="139" width="7" height="1" fill="#000"/><rect x="618" y="139" width="7" height="1" fill="#000"/><rect x="52" y="134" width="7" height="1" fill="#000"/><rect x="618" y="134" width="7" height="1" fill="#000"/><rect x="52" y="307" width="7" height="1" fill="#000"/><rect x="618" y="307" width="7" height="1" fill="#000"/><rect x="52" y="289" width="7" height="1" fill="#000"/><rect x="618" y="289" width="7" height="1" fill="#000"/><rect x="52" y="276" width="7" height="1" fill="#000"/><rect x="618" y="276" width="7" height="1" fill="#000"/><rect x="52" y="266" width="7" height="1" fill="#000"/><rect x="618" y="266" width="7" height="1" fill="#000"/><rect x="52" y="257" width="7" height="1" fill="#000"/><rect x="618" y="257" width="7" height="1" fill="#000"/><rect x="52" y="250" width="7" height="1" fill="#000"/><rect x="618" y="250" width="7" height="1" fill="#000"/><rect x="52" y="244" width="7" height="1" fill="#000"/><rect x="618" y="244" width="7" height="1" fill="#000"/><rect x="52" y="239" width="7" height="1" fill="#000"/><rect x="618" y="239" width="7" height="1" fill="#000"/><rect x="52" y="412" width="7" height="1" fill="#000"/><rect x="618" y="412" width="7" height="1" fill="#000"/><rect x="52" y="394" width="7" height="1" fill="#000"/><rect x="618" y="394" width="7" height="1" fill="#000"/><rect x="52" y="381" width="7" height="1" fill="#000"/><rect x="618" y="381" width="7" height="1" fill="#000"/><rect x="52" y="371" width="7" height="1" fill="#000"/><rect x="618" y="371" width="7" height="1" fill="#000"/><rect x="52" y="362" width="7" height="1" fill="#000"/><rect x="618" y="362" width="7" height="1" fill="#000"/><rect x="52" y="355" width="7" height="1" fill="#000"/><rect x="618" y="355" width="7" height="1" fill="#000"/><rect x="52" y="349" width="7" height="1" fill="#000"/><rect x="618" y="349" width="7" height="1" fill="#000"/><rect x="52" y="344" width="7" height="1" fill="#000"/><rect x="618" y="344" width="7" height="1" fill="#000"/><path d="M162.5 15.5 L164.5 15.5 L164.5 16.5 L163.5 17.5 L163.5 18.5 L162.5 18.5 L160.5 18.5 L159.5 18.5 L159.5 17.5 L158.5 15.5 L158.5 13.5 L159.5 11.5 L160.5 10.5 L162.5 10.5 L163.5 11.5 L164.5 12.5M166.5 13.5 L166.5 15.5 L167.5 17.5 L168.5 18.5 L169.5 18.5 L170.5 18.5 L171.5 18.5 L172.5 17.5 L172.5 15.5 L172.5 13.5 L172.5 11.5 L171.5 11.5 L170.5 10.5 L169.5 10.5 L168.5 11.5 L167.5 11.5 L166.5 13.5M178.5 14.5 L175.5 14.5 L175.5 18.5 L180.5 18.5M175.5 14.5 L175.5 10.5 L180.5 10.5M182.5 17.5 L183.5 18.5 L184.5 18.5 L186.5 18.5 L187.5 18.5 L188.5 17.5 L188.5 16.5 L188.5 15.5 L187.5 15.5 L186.5 14.5 L184.5 14.5 L183.5 13.5 L182.5 12.5 L182.5 11.5 L183.5 11.5 L184.5 10.5 L186.5 10.5 L187.5 11.5 L188.5 11.5M197.5 14.5 L197.5 15.5 L197.5 17.5 L198.5 18.5 L199.5 18.5 L200.5 18.5 L201.5 18.5 L202.5 17.5 L202.5 15.5 L202.5 14.5 L202.5 12.5 L201.5 11.5 L200.5 10.5 L199.5 10.5 L198.5 11.5 L197.5 12.5 L197.5 14.5M205.5 18.5 L206.5 18.5 L205.5 17.5 L205.5 18.5M210.5 12.5 L210.5 11.5 L212.5 10.5M212.5 10.5 L212.5 18.5M217.5 15.5 L224.5 15.5M227.5 14.5 L227.5 15.5 L227.5 17.5 L228.5 18.5 L229.5 18.5 L230.5 18.5 L231.5 18.5 L232.5 17.5 L232.5 15.5 L232.5 14.5 L232.5 12.5 L231.5 11.5 L230.5 10.5 L229.5 10.5 L228.5 11.5 L227.5 12.5 L227.5 14.5M235.5 18.5 L236.5 18.5 L235.5 17.5 L235.5 18.5M238.5 16.5 L238.5 17.5 L239.5 17.5 L239.5 18.5 L240.5 18.5 L242.5 18.5 L243.5 18.5 L244.5 17.5 L244.5 16.5 L244.5 15.5 L243.5 14.5 L241.5 14.5 L240.5 14.5 L239.5 15.5 L238.5 16.5M241.5 14.5 L240.5 13.5 L239.5 13.5 L239.5 12.5 L239.5 11.5 L240.5 10.5 L242.5 10.5 L243.5 11.5 L244.5 11.5 L244.5 12.5 L243.5 13.5 L242.5 13.5 L241.5 14.5M247.5 13.5 L247.5 18.5M247.5 14.5 L248.5 13.5 L249.5 13.5 L250.5 13.5 L251.5 13.5 L251.5 14.5 L251.5 18.5M254.5 13.5 L254.5 18.5M254.5 14.5 L255.5 13.5 L256.5 13.5 L257.5 13.5 L258.5 13.5 L259.5 14.5 L259.5 18.5M259.5 14.5 L260.5 13.5 L261.5 13.5 L262.5 13.5 L263.5 13.5 L263.5 14.5 L263.5 18.5M275.5 9.5 L274.5 10.5 L274.5 11.5 L273.5 12.5 L272.5 14.5 L272.5 16.5 L273.5 17.5 L274.5 19.5 L274.5 20.5 L275.5 21.5M278.5 13.5 L278.5 18.5M278.5 15.5 L278.5 14.5 L279.5 13.5 L280.5 13.5 L281.5 13.5M287.5 17.5 L287.5 18.5 L286.5 18.5 L285.5 18.5 L284.5 18.5 L283.5 17.5 L283.5 16.5 L283.5 15.5 L283.5 14.5 L284.5 13.5 L285.5 13.5 L286.5 13.5 L287.5 13.5 L287.5 14.5 L287.5 15.5 L283.5 15.5M295.5 10.5 L295.5 18.5M295.5 14.5 L294.5 13.5 L293.5 13.5 L292.5 13.5 L291.5 13.5 L290.5 14.5 L290.5 15.5 L290.5 16.5 L290.5 17.5 L291.5 18.5 L292.5 18.5 L293.5 18.5 L294.5 18.5 L295.5 17.5M297.5 9.5 L298.5 10.5 L299.5 11.5 L300.5 12.5 L300.5 14.5 L300.5 16.5 L300.5 17.5 L299.5 19.5 L298.5 20.5 L297.5 21.5M303.5 17.5 L304.5 17.5M304.5 17.5 L304.5 18.5 L303.5 20.5M314.5 10.5 L314.5 18.5 L318.5 18.5M319.5 10.5 L322.5 14.5 L322.5 18.5M322.5 14.5 L325.5 10.5M327.5 18.5 L327.5 10.5 L331.5 10.5 L332.5 11.5 L333.5 12.5 L333.5 13.5 L332.5 13.5 L332.5 14.5 L331.5 14.5 L327.5 14.5M330.5 14.5 L333.5 18.5M334.5 18.5 L338.5 10.5M336.5 16.5 L340.5 16.5M338.5 10.5 L341.5 18.5M348.5 18.5 L351.5 10.5M349.5 16.5 L353.5 16.5M351.5 10.5 L354.5 18.5M356.5 10.5 L356.5 18.5M368.5 9.5 L368.5 10.5 L367.5 11.5 L366.5 12.5 L366.5 14.5 L366.5 16.5 L366.5 17.5 L367.5 19.5 L368.5 20.5 L368.5 21.5M371.5 10.5 L371.5 18.5M371.5 14.5 L372.5 13.5 L373.5 13.5 L374.5 13.5 L375.5 13.5 L376.5 14.5 L376.5 15.5 L376.5 16.5 L376.5 17.5 L375.5 18.5 L374.5 18.5 L373.5 18.5 L372.5 18.5 L371.5 17.5M379.5 10.5 L379.5 18.5M382.5 13.5 L382.5 17.5 L382.5 18.5 L383.5 18.5 L384.5 18.5 L385.5 18.5 L386.5 17.5 L386.5 13.5M386.5 17.5 L386.5 18.5M394.5 17.5 L393.5 18.5 L392.5 18.5 L391.5 18.5 L390.5 18.5 L389.5 17.5 L389.5 16.5 L389.5 15.5 L389.5 14.5 L390.5 13.5 L391.5 13.5 L392.5 13.5 L393.5 13.5 L393.5 14.5 L394.5 14.5 L394.5 15.5 L389.5 15.5M396.5 9.5 L397.5 10.5 L398.5 11.5 L398.5 12.5 L399.5 14.5 L399.5 16.5 L398.5 17.5 L398.5 19.5 L397.5 20.5 L396.5 21.5M416.5 14.5 L416.5 13.5 L415.5 13.5 L413.5 16.5 L413.5 17.5 L412.5 18.5 L411.5 18.5 L409.5 18.5 L408.5 17.5 L408.5 16.5 L408.5 15.5 L409.5 15.5 L411.5 13.5 L412.5 13.5 L412.5 12.5 L412.5 11.5 L411.5 10.5 L410.5 11.5 L410.5 12.5 L410.5 13.5 L411.5 14.5M411.5 14.5 L413.5 17.5M413.5 17.5 L414.5 18.5 L415.5 18.5 L416.5 18.5 L416.5 17.5M425.5 10.5 L430.5 10.5 L425.5 18.5M425.5 18.5 L430.5 18.5M433.5 13.5 L433.5 18.5M433.5 15.5 L433.5 14.5 L434.5 13.5 L435.5 13.5 L436.5 13.5M447.5 9.5 L446.5 10.5 L445.5 11.5 L445.5 12.5 L444.5 14.5 L444.5 16.5 L445.5 17.5 L445.5 19.5 L446.5 20.5 L447.5 21.5M451.5 20.5 L451.5 21.5 L453.5 21.5 L453.5 20.5 L454.5 20.5 L454.5 19.5 L454.5 13.5M454.5 14.5 L453.5 13.5 L451.5 13.5 L450.5 14.5 L449.5 15.5 L449.5 16.5 L450.5 17.5 L451.5 18.5 L453.5 18.5 L454.5 17.5M457.5 13.5 L457.5 18.5M457.5 15.5 L458.5 14.5 L458.5 13.5 L459.5 13.5 L460.5 13.5M467.5 17.5 L466.5 18.5 L465.5 18.5 L464.5 18.5 L463.5 18.5 L462.5 17.5 L462.5 16.5 L462.5 15.5 L462.5 14.5 L463.5 13.5 L464.5 13.5 L465.5 13.5 L466.5 13.5 L466.5 14.5 L467.5 14.5 L467.5 15.5 L462.5 15.5M468.5 21.5 L469.5 21.5 L470.5 20.5 L471.5 18.5 L473.5 13.5M469.5 13.5 L471.5 18.5M475.5 9.5 L476.5 10.5 L477.5 11.5 L478.5 12.5 L478.5 14.5 L478.5 16.5 L478.5 17.5 L477.5 19.5 L476.5 20.5 L475.5 21.5M488.5 13.5 L488.5 21.5M488.5 14.5 L488.5 13.5 L489.5 13.5 L490.5 13.5 L491.5 13.5 L492.5 14.5 L492.5 15.5 L492.5 16.5 L492.5 17.5 L491.5 18.5 L490.5 18.5 L489.5 18.5 L488.5 18.5 L488.5 17.5M495.5 13.5 L495.5 18.5M495.5 15.5 L496.5 14.5 L496.5 13.5 L497.5 13.5 L498.5 13.5M500.5 15.5 L500.5 16.5 L500.5 17.5 L501.5 18.5 L502.5 18.5 L503.5 18.5 L504.5 18.5 L505.5 17.5 L505.5 16.5 L505.5 15.5 L505.5 14.5 L504.5 13.5 L503.5 13.5 L502.5 13.5 L501.5 13.5 L500.5 14.5 L500.5 15.5M507.5 13.5 L512.5 18.5M507.5 18.5 L509.5 16.5M509.5 16.5 L512.5 13.5M513.5 21.5 L514.5 21.5 L515.5 20.5 L516.5 18.5 L519.5 13.5M514.5 13.5 L516.5 18.5M266.5 463.5 L271.5 463.5M269.5 463.5 L269.5 469.5M272.5 465.5 L272.5 469.5M272.5 463.5 L273.5 463.5 L272.5 462.5 L272.5 463.5M275.5 465.5 L275.5 469.5M275.5 466.5 L276.5 465.5 L277.5 465.5 L278.5 465.5 L278.5 466.5 L278.5 469.5M278.5 466.5 L279.5 465.5 L280.5 465.5 L281.5 465.5 L282.5 465.5 L282.5 466.5 L282.5 469.5M288.5 468.5 L287.5 469.5 L286.5 469.5 L285.5 469.5 L284.5 468.5 L284.5 467.5 L284.5 466.5 L285.5 465.5 L286.5 465.5 L287.5 465.5 L288.5 465.5 L288.5 466.5 L288.5 467.5 L284.5 467.5M295.5 471.5 L300.5 461.5M307.5 463.5 L307.5 469.5M307.5 466.5 L308.5 465.5 L309.5 465.5 L310.5 465.5 L311.5 466.5 L311.5 469.5M318.5 463.5 L318.5 467.5 L319.5 468.5 L319.5 469.5 L320.5 469.5 L321.5 469.5 L322.5 469.5 L322.5 468.5 L323.5 467.5 L323.5 463.5M324.5 463.5 L329.5 463.5M326.5 463.5 L326.5 469.5M335.5 464.5 L334.5 464.5 L334.5 463.5 L333.5 463.5 L332.5 463.5 L331.5 463.5 L331.5 464.5 L330.5 465.5 L330.5 467.5 L331.5 468.5 L331.5 469.5 L332.5 469.5 L333.5 469.5 L334.5 469.5 L334.5 468.5 L335.5 468.5M337.5 469.5 L337.5 471.5M345.5 468.5 L345.5 469.5 L346.5 469.5 L347.5 469.5 L348.5 469.5 L349.5 468.5 L349.5 467.5 L349.5 466.5 L349.5 465.5 L348.5 465.5 L347.5 465.5 L349.5 463.5M345.5 463.5 L349.5 463.5M352.5 464.5 L353.5 464.5 L354.5 463.5M354.5 463.5 L354.5 469.5M363.5 463.5 L363.5 469.5M363.5 463.5 L365.5 469.5M365.5 469.5 L368.5 463.5M368.5 463.5 L368.5 469.5M374.5 465.5 L374.5 469.5M374.5 466.5 L373.5 465.5 L372.5 465.5 L371.5 465.5 L370.5 466.5 L370.5 467.5 L370.5 468.5 L371.5 469.5 L372.5 469.5 L373.5 469.5 L374.5 468.5M376.5 465.5 L376.5 469.5M376.5 467.5 L377.5 466.5 L377.5 465.5 L378.5 465.5 L379.5 465.5M386.5 464.5 L386.5 463.5 L387.5 463.5 L388.5 463.5 L389.5 463.5 L389.5 464.5 L389.5 465.5 L388.5 466.5 L385.5 469.5M385.5 469.5 L390.5 469.5M392.5 465.5 L392.5 466.5 L392.5 468.5 L392.5 469.5 L393.5 469.5 L394.5 469.5 L395.5 469.5 L396.5 468.5 L396.5 466.5 L396.5 465.5 L396.5 464.5 L395.5 463.5 L394.5 463.5 L393.5 463.5 L392.5 463.5 L392.5 464.5 L392.5 465.5M399.5 464.5 L400.5 463.5M400.5 463.5 L400.5 469.5M408.5 464.5 L408.5 463.5 L407.5 463.5 L406.5 463.5 L405.5 463.5 L405.5 464.5 L404.5 465.5 L404.5 467.5 L405.5 468.5 L405.5 469.5 L406.5 469.5 L407.5 469.5 L408.5 469.5 L408.5 468.5 L409.5 467.5 L408.5 466.5 L408.5 465.5 L407.5 465.5 L406.5 465.5 L405.5 465.5 L405.5 466.5 L404.5 467.5M489.5 494.5 L489.5 487.5 L492.5 487.5 L493.5 487.5 L493.5 488.5 L493.5 489.5 L493.5 490.5 L492.5 490.5 L489.5 490.5M491.5 490.5 L493.5 494.5M495.5 490.5 L495.5 491.5 L496.5 493.5 L497.5 493.5 L497.5 494.5 L499.5 494.5 L499.5 493.5 L500.5 493.5 L501.5 491.5 L501.5 490.5 L500.5 488.5 L499.5 487.5 L497.5 487.5 L496.5 488.5 L495.5 490.5M503.5 487.5 L506.5 487.5 L507.5 487.5 L507.5 488.5 L508.5 488.5 L508.5 489.5 L507.5 490.5 L506.5 490.5 L503.5 490.5 L503.5 494.5 L506.5 494.5 L507.5 493.5 L508.5 493.5 L508.5 492.5 L507.5 491.5 L506.5 490.5M503.5 487.5 L503.5 490.5M509.5 496.5 L515.5 486.5M517.5 493.5 L518.5 493.5 L519.5 494.5 L520.5 494.5 L521.5 493.5 L522.5 493.5 L522.5 492.5 L522.5 491.5 L521.5 491.5 L518.5 490.5 L517.5 489.5 L517.5 488.5 L518.5 487.5 L519.5 487.5 L520.5 487.5 L521.5 487.5 L522.5 488.5M524.5 487.5 L524.5 494.5M527.5 487.5 L529.5 487.5 L530.5 487.5 L531.5 488.5 L531.5 489.5 L532.5 490.5 L532.5 491.5 L531.5 493.5 L530.5 493.5 L529.5 494.5 L527.5 494.5 L527.5 487.5M539.5 489.5 L538.5 488.5 L538.5 487.5 L537.5 487.5 L536.5 487.5 L535.5 487.5 L534.5 488.5 L534.5 490.5 L534.5 491.5 L534.5 493.5 L535.5 493.5 L536.5 494.5 L537.5 494.5 L538.5 493.5 L539.5 492.5M541.5 493.5 L541.5 495.5M550.5 487.5 L553.5 487.5 L554.5 487.5 L554.5 488.5 L555.5 488.5 L555.5 489.5 L554.5 490.5 L553.5 490.5 L550.5 490.5 L550.5 494.5 L553.5 494.5 L554.5 493.5 L555.5 493.5 L555.5 492.5 L554.5 491.5 L553.5 490.5M550.5 487.5 L550.5 490.5M557.5 489.5 L557.5 494.5M557.5 491.5 L557.5 490.5 L558.5 490.5 L559.5 489.5 L560.5 489.5M561.5 489.5 L561.5 493.5 L562.5 493.5 L562.5 494.5 L563.5 494.5 L564.5 493.5 L565.5 493.5 L565.5 489.5M565.5 493.5 L565.5 494.5M567.5 493.5 L568.5 493.5 L569.5 494.5 L570.5 494.5 L571.5 493.5 L571.5 492.5 L570.5 492.5 L568.5 491.5 L567.5 490.5 L568.5 490.5 L569.5 489.5 L570.5 489.5 L571.5 490.5M573.5 493.5 L574.5 494.5 L575.5 494.5 L576.5 493.5 L577.5 493.5 L576.5 492.5 L574.5 491.5 L573.5 491.5 L573.5 490.5 L574.5 489.5 L575.5 489.5 L576.5 490.5 L577.5 490.5M583.5 493.5 L582.5 493.5 L582.5 494.5 L581.5 494.5 L580.5 493.5 L579.5 493.5 L579.5 492.5 L579.5 491.5 L579.5 490.5 L580.5 490.5 L581.5 489.5 L582.5 489.5 L582.5 490.5 L583.5 490.5 L583.5 491.5 L579.5 491.5M585.5 487.5 L585.5 494.5M588.5 493.5 L589.5 494.5 L590.5 494.5 L591.5 493.5 L591.5 492.5 L590.5 492.5 L589.5 491.5 L588.5 491.5 L588.5 490.5 L589.5 489.5 L590.5 489.5 L591.5 490.5M594.5 493.5 L594.5 495.5M602.5 487.5 L605.5 487.5 L606.5 487.5 L607.5 488.5 L607.5 489.5 L607.5 490.5 L606.5 490.5 L605.5 490.5 L602.5 490.5 L602.5 494.5 L605.5 494.5 L606.5 493.5 L607.5 493.5 L607.5 492.5 L607.5 491.5 L606.5 491.5 L605.5 490.5M602.5 487.5 L602.5 490.5M613.5 493.5 L612.5 494.5 L611.5 494.5 L610.5 493.5 L609.5 493.5 L609.5 492.5 L609.5 491.5 L609.5 490.5 L610.5 490.5 L611.5 489.5 L612.5 489.5 L613.5 490.5 L613.5 491.5 L609.5 491.5M616.5 487.5 L616.5 494.5M619.5 496.5 L620.5 496.5 L621.5 496.5 L622.5 495.5 L622.5 494.5 L622.5 489.5M622.5 490.5 L621.5 490.5 L621.5 489.5 L620.5 489.5 L619.5 490.5 L618.5 490.5 L618.5 491.5 L618.5 492.5 L618.5 493.5 L619.5 493.5 L620.5 494.5 L621.5 494.5 L621.5 493.5 L622.5 493.5M625.5 489.5 L625.5 494.5M624.5 487.5 L625.5 487.5 L624.5 487.5M627.5 489.5 L627.5 493.5 L628.5 493.5 L628.5 494.5 L629.5 494.5 L630.5 493.5 L631.5 493.5 L631.5 489.5M631.5 493.5 L631.5 494.5M634.5 489.5 L634.5 494.5M634.5 491.5 L635.5 490.5 L635.5 489.5 L636.5 489.5 L637.5 490.5 L637.5 491.5 L637.5 494.5M637.5 491.5 L638.5 490.5 L639.5 489.5 L640.5 489.5 L641.5 490.5 L641.5 491.5 L641.5 494.5M49.5 454.5 L49.5 455.5 L50.5 456.5 L50.5 457.5 L51.5 457.5 L52.5 457.5 L53.5 457.5 L54.5 456.5 L54.5 455.5 L54.5 454.5 L54.5 452.5 L53.5 451.5 L52.5 451.5 L51.5 451.5 L50.5 451.5 L50.5 452.5 L49.5 454.5M169.5 456.5 L169.5 457.5 L170.5 457.5 L171.5 457.5 L172.5 457.5 L173.5 456.5 L173.5 455.5 L173.5 454.5 L172.5 453.5 L171.5 453.5 L170.5 453.5 L169.5 453.5 L169.5 454.5M169.5 454.5 L169.5 451.5 L172.5 451.5M286.5 452.5 L287.5 451.5M287.5 451.5 L287.5 457.5M291.5 454.5 L291.5 455.5 L291.5 456.5 L292.5 457.5 L293.5 457.5 L294.5 457.5 L295.5 456.5 L295.5 455.5 L295.5 454.5 L295.5 452.5 L294.5 451.5 L293.5 451.5 L292.5 451.5 L291.5 452.5 L291.5 454.5M405.5 452.5 L406.5 451.5M406.5 451.5 L406.5 457.5M410.5 456.5 L410.5 457.5 L411.5 457.5 L412.5 457.5 L413.5 457.5 L414.5 457.5 L414.5 456.5 L415.5 456.5 L415.5 455.5 L414.5 454.5 L414.5 453.5 L413.5 453.5 L412.5 453.5 L411.5 453.5 L410.5 454.5M410.5 454.5 L411.5 451.5 L414.5 451.5M523.5 453.5 L523.5 452.5 L524.5 452.5 L524.5 451.5 L525.5 451.5 L526.5 451.5 L527.5 452.5 L527.5 453.5 L526.5 454.5 L523.5 457.5M523.5 457.5 L527.5 457.5M529.5 454.5 L529.5 455.5 L530.5 456.5 L530.5 457.5 L531.5 457.5 L532.5 457.5 L533.5 457.5 L533.5 456.5 L534.5 455.5 L534.5 454.5 L533.5 452.5 L533.5 451.5 L532.5 451.5 L531.5 451.5 L530.5 451.5 L530.5 452.5 L529.5 454.5M632.5 72.5 L632.5 79.5M632.5 72.5 L635.5 79.5M635.5 79.5 L637.5 72.5M637.5 72.5 L637.5 79.5M637.5 179.5 L636.5 178.5 L635.5 177.5 L634.5 177.5 L633.5 178.5 L632.5 178.5 L632.5 180.5 L632.5 181.5 L632.5 183.5 L633.5 183.5 L634.5 184.5 L635.5 184.5 L636.5 183.5 L637.5 182.5M632.5 282.5 L635.5 282.5 L636.5 283.5 L637.5 284.5 L636.5 285.5 L635.5 285.5 L632.5 285.5 L632.5 289.5 L635.5 289.5 L636.5 288.5 L637.5 287.5 L636.5 286.5 L635.5 285.5M632.5 282.5 L632.5 285.5M631.5 394.5 L634.5 387.5M632.5 392.5 L635.5 392.5M634.5 387.5 L636.5 394.5M34.5 25.5 L35.5 24.5M35.5 24.5 L35.5 29.5M38.5 26.5 L38.5 27.5 L38.5 28.5 L39.5 29.5 L40.5 29.5 L41.5 29.5 L41.5 28.5 L41.5 27.5 L41.5 26.5 L41.5 25.5 L41.5 24.5 L40.5 24.5 L39.5 24.5 L38.5 25.5 L38.5 26.5M43.5 24.5 L46.5 24.5M49.5 25.5 L49.5 22.5 L47.5 24.5M47.5 24.5 L49.5 24.5M49.5 24.5 L50.5 24.5M34.5 128.5 L35.5 127.5M35.5 127.5 L35.5 132.5M38.5 129.5 L38.5 130.5 L38.5 131.5 L39.5 132.5 L40.5 132.5 L41.5 132.5 L41.5 131.5 L41.5 130.5 L41.5 129.5 L41.5 128.5 L41.5 127.5 L40.5 127.5 L39.5 127.5 L38.5 128.5 L38.5 129.5M43.5 127.5 L46.5 127.5M47.5 127.5 L47.5 128.5 L48.5 128.5 L49.5 128.5 L49.5 127.5 L49.5 126.5 L48.5 126.5 L47.5 126.5M47.5 126.5 L47.5 125.5 L49.5 125.5M34.5 233.5 L35.5 232.5M35.5 232.5 L35.5 237.5M38.5 234.5 L38.5 235.5 L38.5 236.5 L39.5 237.5 L40.5 237.5 L41.5 237.5 L41.5 236.5 L41.5 235.5 L41.5 234.5 L41.5 233.5 L41.5 232.5 L40.5 232.5 L39.5 232.5 L38.5 233.5 L38.5 234.5M43.5 232.5 L46.5 232.5M49.5 230.5 L48.5 230.5 L47.5 230.5 L47.5 231.5 L47.5 232.5 L47.5 233.5 L48.5 233.5 L49.5 233.5 L49.5 232.5 L49.5 231.5 L48.5 231.5 L47.5 231.5 L47.5 232.5M34.5 338.5 L35.5 337.5M35.5 337.5 L35.5 342.5M38.5 339.5 L38.5 340.5 L38.5 341.5 L39.5 342.5 L40.5 342.5 L41.5 342.5 L41.5 341.5 L41.5 340.5 L41.5 339.5 L41.5 338.5 L41.5 337.5 L40.5 337.5 L39.5 337.5 L38.5 338.5 L38.5 339.5M43.5 337.5 L46.5 337.5M47.5 335.5 L49.5 335.5 L48.5 338.5M34.5 440.5 L35.5 439.5M35.5 439.5 L35.5 444.5M38.5 441.5 L38.5 442.5 L38.5 443.5 L39.5 444.5 L40.5 444.5 L41.5 444.5 L41.5 443.5 L41.5 442.5 L41.5 441.5 L41.5 440.5 L41.5 439.5 L40.5 439.5 L39.5 439.5 L38.5 440.5 L38.5 441.5M43.5 439.5 L46.5 439.5M47.5 439.5 L47.5 440.5 L48.5 440.5 L49.5 440.5 L49.5 439.5 L49.5 438.5 L48.5 438.5 L47.5 438.5 L47.5 439.5M48.5 438.5 L47.5 438.5 L47.5 437.5 L48.5 437.5 L49.5 437.5 L49.5 438.5 L48.5 438.5M24.5 286.5 L24.5 284.5 L25.5 284.5 L25.5 285.5 L26.5 285.5 L26.5 286.5 L26.5 287.5 L25.5 288.5 L24.5 288.5 L23.5 288.5 L22.5 288.5 L21.5 287.5 L21.5 286.5 L21.5 285.5 L22.5 285.5 L22.5 284.5M23.5 283.5 L24.5 283.5 L25.5 282.5 L26.5 282.5 L26.5 281.5 L26.5 280.5 L25.5 279.5 L24.5 279.5 L23.5 279.5 L22.5 279.5 L21.5 280.5 L21.5 281.5 L21.5 282.5 L22.5 282.5 L23.5 283.5M23.5 275.5 L23.5 277.5 L26.5 277.5 L26.5 274.5M23.5 277.5 L21.5 277.5 L21.5 274.5M25.5 272.5 L26.5 272.5 L26.5 271.5 L26.5 270.5 L26.5 269.5 L25.5 269.5 L24.5 269.5 L24.5 270.5 L23.5 271.5 L23.5 272.5 L22.5 272.5 L21.5 272.5 L21.5 271.5 L21.5 270.5 L21.5 269.5 L22.5 269.5M21.5 263.5 L26.5 263.5M23.5 261.5 L26.5 261.5M24.5 261.5 L23.5 261.5 L23.5 260.5 L23.5 259.5M23.5 258.5 L26.5 258.5M24.5 258.5 L23.5 258.5 L23.5 257.5 L23.5 256.5M23.5 252.5 L26.5 252.5M23.5 252.5 L23.5 253.5 L23.5 254.5 L23.5 255.5 L24.5 255.5 L25.5 255.5 L26.5 254.5 L26.5 253.5 L26.5 252.5 L25.5 252.5M21.5 247.5 L26.5 247.5M23.5 247.5 L23.5 248.5 L23.5 249.5 L23.5 250.5 L24.5 250.5 L25.5 250.5 L26.5 249.5 L26.5 248.5 L26.5 247.5 L25.5 247.5M23.5 245.5 L26.5 245.5M21.5 245.5 L21.51 245.5M23.5 240.5 L26.5 240.5M23.5 240.5 L23.5 241.5 L23.5 242.5 L23.5 243.5 L24.5 243.5 L25.5 243.5 L26.5 242.5 L26.5 241.5 L25.5 240.5M23.5 238.5 L26.5 238.5M24.5 238.5 L23.5 237.5 L23.5 236.5 L24.5 235.5 L26.5 235.5M23.5 231.5 L23.5 232.5 L23.5 233.5 L24.5 234.5 L25.5 234.5 L25.5 233.5 L26.5 233.5 L26.5 232.5 L26.5 231.5 L25.5 231.5M25.5 226.5 L26.5 226.5 L26.5 227.5 L26.5 228.5 L25.5 229.5 L24.5 229.5 L23.5 229.5 L23.5 228.5 L23.5 227.5 L23.5 226.5 L24.5 226.5 L24.5 229.5M28.5 221.5 L20.5 216.5M20.5 209.5 L21.5 210.5 L22.5 210.5 L23.5 211.5 L24.5 211.5 L26.5 210.5 L27.5 210.5 L27.5 209.5 L28.5 209.5M21.5 208.5 L26.5 206.5M26.5 206.5 L21.5 205.5M21.5 205.5 L26.5 204.5M26.5 204.5 L21.5 202.5M23.5 197.5 L26.5 197.5M24.5 197.5 L23.5 196.5 L23.5 195.5 L23.5 194.5 L24.5 194.5 L26.5 194.5M24.5 194.5 L23.5 193.5 L23.5 192.5 L24.5 191.5 L26.5 191.5M21.5 190.5 L21.5 187.5M20.5 185.5 L20.5 184.5 L20.5 183.5 L21.5 184.5 L23.5 185.5M23.5 185.5 L23.5 183.5M20.5 182.5 L20.5 181.5 L21.5 181.5 L22.5 180.5 L23.5 180.5 L24.5 180.5 L26.5 180.5 L27.5 181.5 L28.5 182.5" fill="none" stroke="#000" stroke-width="1" stroke-linecap="square" stroke-linejoin="miter"/></svg></body></html>
